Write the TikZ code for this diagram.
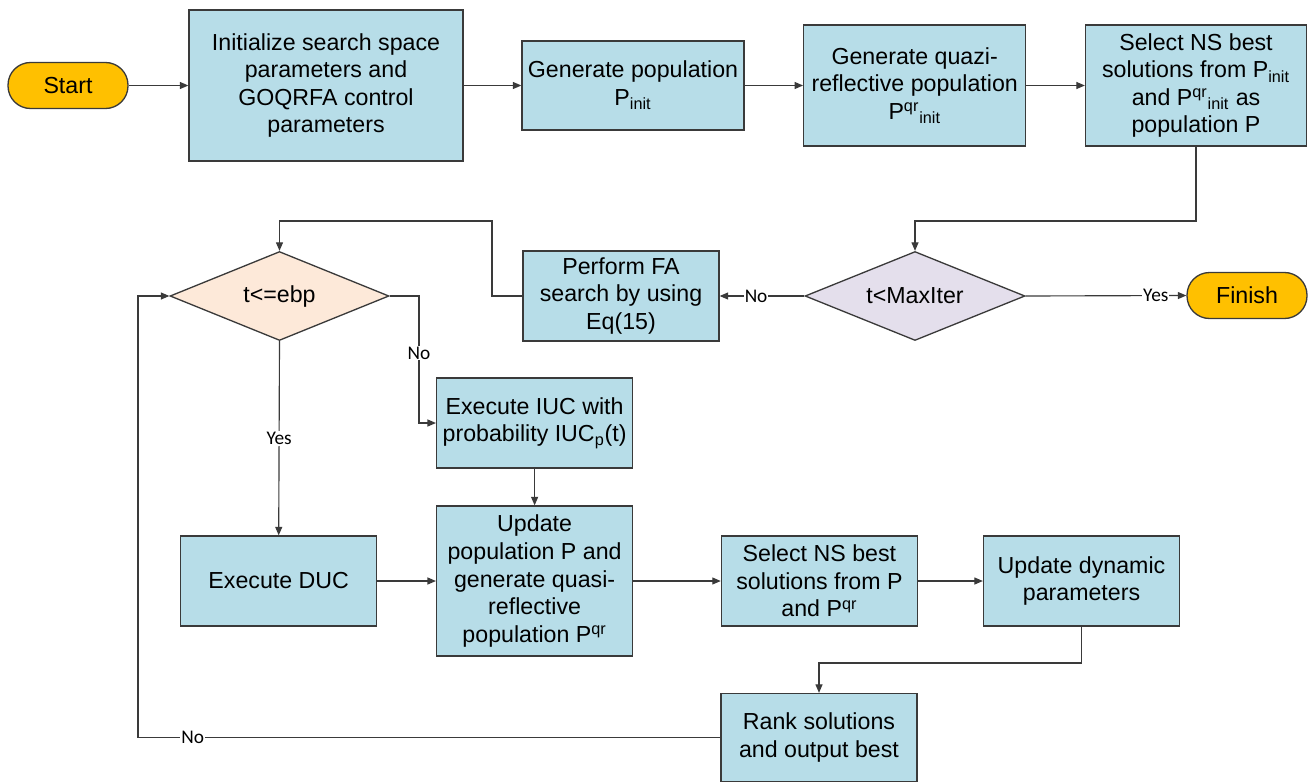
\documentclass[tikz,border=0pt]{standalone}
\usepackage{fontspec}
\setmainfont{Liberation Sans}
\newfontfamily\lblfont{Carlito}
\usetikzlibrary{arrows.meta,shapes.geometric}
\definecolor{boxblue}{HTML}{B7DDE8}
\definecolor{termgold}{HTML}{FFC000}
\definecolor{peach}{HTML}{FDE9D9}
\definecolor{lilac}{HTML}{E4DFEC}
\definecolor{edgegray}{HTML}{3A3A3A}
\newcommand{\Pqr}{P\textsuperscript{qr}}
\newcommand{\Pinit}{P\textsubscript{init}}
\newcommand{\Pqrinit}{P\textsuperscript{qr}\textsubscript{init}}
\begin{document}
\begin{tikzpicture}[x=0.02cm,y=-0.02cm,>={Triangle[length=1.7mm,width=1.4mm]},
  every node/.style={font=\fontsize{13.2}{15.7}\selectfont,align=center,inner sep=1pt},
  procbox/.style={draw=edgegray,line width=0.75pt,fill=boxblue,minimum width=3.92cm,minimum height=1.8cm},
  termbox/.style={draw=edgegray,line width=0.75pt,fill=termgold,minimum width=2.4cm,minimum height=0.92cm,rounded corners=4.5mm},
  decide/.style={diamond,aspect=2.47,draw=edgegray,line width=0.75pt,minimum width=4.4cm,minimum height=1.78cm,inner sep=0pt},
  flow/.style={draw=edgegray,line width=0.65pt},
  lbl/.style={font=\lblfont\fontsize{11}{12}\selectfont,fill=white,inner sep=0.6pt}]
  \useasboundingbox (0,0) rectangle (1310,781);
  % top row
  \node[termbox] (start) at (68,85.5) {Start};
  \node[procbox,minimum width=5.48cm,minimum height=3.02cm] (init) at (326,85.5)
    {Initialize search space\\parameters and\\GOQRFA control\\parameters};
  \node[procbox,minimum width=4.44cm,minimum height=1.78cm] (genpop) at (633,85.5)
    {Generate population\\\Pinit};
  \node[procbox,minimum width=4.44cm,minimum height=2.42cm] (quazi) at (914.7,85.5)
    {Generate quazi-\\reflective population\\\Pqrinit};
  \node[procbox,minimum width=4.42cm,minimum height=2.42cm] (selinit) at (1196,85.5)
    {Select NS best\\solutions from \Pinit\\and \Pqrinit{} as\\population P};
  % decisions
  \node[decide,fill=lilac] (maxiter) at (915,296) {t<MaxIter};
  \node[termbox] (finish) at (1247,295.5) {Finish};
  \node[procbox] (fasearch) at (621,296) {Perform FA\\search by using\\Eq(15)};
  \node[decide,fill=peach,minimum width=4.38cm] (ebp) at (279.5,296) {t<=ebp};
  \node[procbox] (iuc) at (534.6,423) {Execute IUC with\\probability IUC\textsubscript{p}(t)};
  % bottom row
  \node[procbox] (duc) at (278.7,581) {Execute DUC};
  \node[procbox,minimum height=3cm] (update) at (534.6,581)
    {Update\\population P and\\generate quasi-\\reflective\\population \Pqr};
  \node[procbox] (selns) at (819.4,581) {Select NS best\\solutions from P\\and \Pqr};
  \node[procbox] (upddyn) at (1081.5,581) {Update dynamic\\parameters};
  \node[procbox,minimum height=1.76cm] (rank) at (819,737.5) {Rank solutions\\and output best};
  % bends
  \coordinate (bend1) at (915,221);
  \coordinate (bend2) at (492,221);
  \coordinate (bend3) at (419,353);
  \coordinate (bend4) at (819,663);
  \coordinate (bend5) at (138,737.5);
  % connectors
  \draw[flow,->] (start) -- (init);
  \draw[flow,->] (init) -- (genpop);
  \draw[flow,->] (genpop) -- (quazi);
  \draw[flow,->] (quazi) -- (selinit);
  \draw[flow,->] (selinit.south) |- (bend1) -- (maxiter.north);
  \draw[flow,->] (maxiter.east) -- node[lbl,pos=0.81] {Yes} (finish.west);
  \draw[flow,->] (maxiter.west) -- node[lbl,pos=0.57] {No} (fasearch.east);
  \draw[flow,->] (fasearch.west) -| (bend2) -| (ebp.north);
  \draw[flow,->] (ebp.east) -| (bend3) node[lbl] {No} |- (iuc.west);
  \draw[flow,->] (ebp.south) -- node[lbl,pos=0.5] {Yes} (duc.north);
  \draw[flow,->] (iuc.south) -- (update.north);
  \draw[flow,->] (duc.east) -- (update.west);
  \draw[flow,->] (update.east) -- (selns.west);
  \draw[flow,->] (selns.east) -- (upddyn.west);
  \draw[flow,->] (upddyn.south) |- (bend4) -- (rank.north);
  \draw[flow,->] (rank.west) -- node[lbl,pos=0.906] {No} (bend5) |- (ebp.west);
\end{tikzpicture}
\end{document}
